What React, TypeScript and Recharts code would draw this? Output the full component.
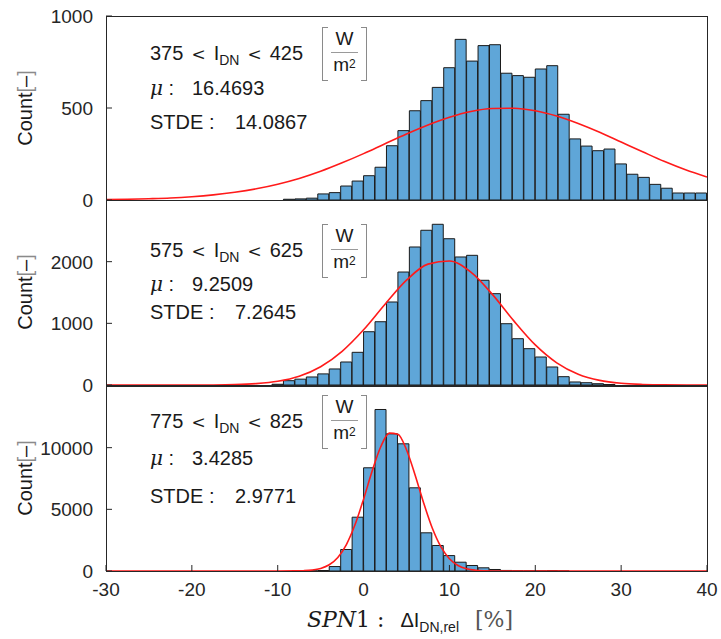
/**
 * SPN1 relative DNI deviation: three stacked histograms (per irradiance band)
 * with the fitted normal curve drawn on top.
 */

import { ComposedChart, Bar, Line, XAxis, YAxis } from 'recharts'

const BIN_WIDTH = 4 / 3
const X_DOMAIN: [number, number] = [-30, 40]
const X_TICKS = [-30, -20, -10, 0, 10, 20, 30, 40]

// band labels, fit parameters as printed
const bandLow = [375, 575, 775]
const bandHigh = [425, 625, 825]
const means = ['16.4693', '9.2509', '3.4285']
const stdes = ['14.0867', '7.2645', '2.9771']

// panel 1 (375-425 W/m2): first bin index (left edge = index * BIN_WIDTH)
const firstBin1 = -7
const counts1 = [
    4, 6, 10, 33, 40, 76, 103, 132, 178, 295, 377, 485, 540, 612, 719, 873, 755, 839, 844,
    689, 676, 667, 712, 730, 466, 332, 293, 268, 277, 196, 140, 123, 85, 64, 38, 38, 38,
]
const fitX1 = [-30, -27.5, -25, -22.5, -20, -17.5, -15, -12.5, -10, -7.5, -5, -2.5, 0, 2.5, 5, 7.5, 10, 12.5, 15, 17.5, 20, 22.5, 25, 27.5, 30, 32.5, 35, 37.5, 40]
const fitY1 = [2, 4, 7, 11, 18, 28, 42, 61, 86, 117, 156, 202, 252, 306, 359, 408, 450, 481, 497, 499, 485, 456, 416, 368, 315, 262, 210, 164, 125]
const yTicks1 = [0, 500, 1000]

// panel 2 (575-625 W/m2)
const firstBin2 = -8
const counts2 = [
    12, 70, 95, 130, 180, 260, 373, 530, 864, 1026, 1346, 1832, 2238, 2509, 2606, 2372, 2076,
    2103, 1698, 1481, 994, 751, 589, 454, 292, 135, 49, 37, 21, 8,
]
const fitX2 = [-30, -20, -17.5, -15, -12.5, -10, -7.5, -5, -2.5, 0, 2.5, 5, 7.5, 10, 12.5, 15, 17.5, 20, 22.5, 25, 27.5, 30, 32.5, 35, 40]
const fitY2 = [0, 0, 1, 6, 22, 60, 142, 296, 546, 895, 1310, 1700, 1960, 2010, 1830, 1470, 1040, 650, 360, 175, 75, 28, 9, 2, 0]
const yTicks2 = [0, 1000, 2000]

// panel 3 (775-825 W/m2)
const firstBin3 = -5
const counts3 = [
    15, 40, 360, 1743, 4362, 8368, 13095, 11124, 10313, 6746, 3097, 2068, 1250, 714, 446, 259,
    122, 45, 20, 10, 5, 30, 5,
]
const fitX3 = [-30, -10, -8, -7, -6, -5, -4, -3, -2, -1, 0, 1, 2, 3, 4, 5, 6, 7, 8, 9, 10, 11, 12, 13, 14, 16, 20, 40]
const fitY3 = [0, 0, 7, 25, 76, 207, 505, 1102, 2148, 3743, 5826, 8104, 10071, 11183, 11095, 9836, 7791, 5513, 3486, 1970, 994, 448, 181, 65, 21, 0, 0, 0]
const yTicks3 = [0, 5000, 10000]

const SANS = '"Liberation Sans", Arial, Helvetica, sans-serif'
const SERIF = '"DejaVu Serif", "Liberation Serif", serif'
const AXIS = '#262626'
const BAR_FILL = '#5fa6d8'
const TICK_LEN = 6

const toBins = (first: number, counts: number[]) =>
    counts.map((c, i) => ({ x: (first + i + 0.5) * BIN_WIDTH, count: c }))
const toFit = (xs: number[], ys: number[]) => xs.map((x, i) => ({ x, fit: ys[i] }))

type Side = 'bottom' | 'top' | 'left' | 'right'

// inward tick mark (MATLAB style) plus optional label, drawn as a path
const makeTick = (side: Side, withLabel: boolean) => (props: any) => {
    const { x, y, payload } = props
    let d = ''
    if (side === 'bottom') d = `M${x},${y}V${y - TICK_LEN}`
    if (side === 'top') d = `M${x},${y}V${y + TICK_LEN}`
    if (side === 'left') d = `M${x},${y}H${x + TICK_LEN}`
    if (side === 'right') d = `M${x},${y}H${x - TICK_LEN}`
    return (
        <g>
            <path d={d} stroke={AXIS} strokeWidth={1} fill="none" />
            {withLabel && side === 'bottom' && (
                <text x={x} y={y + 25} textAnchor="middle" fill={AXIS} fontSize={19} fontFamily={SANS}>
                    {payload.value}
                </text>
            )}
            {withLabel && side === 'left' && (
                <text x={x - 13} y={y + 7} textAnchor="end" fill={AXIS} fontSize={19} fontFamily={SANS}>
                    {payload.value}
                </text>
            )}
        </g>
    )
}

interface PanelProps {
    bins: { x: number; count: number }[]
    fit: { x: number; fit: number }[]
    yMax: number
    yTicks: number[]
    height: number
    top: number
    bottom: number
    xAxisHeight: number
    showXLabels: boolean
}

function Panel({ bins, fit, yMax, yTicks, height, top, bottom, xAxisHeight, showXLabels }: PanelProps) {
    const common = { tickSize: 0, tickMargin: 0, axisLine: false, tickLine: false, interval: 0 as const, allowDataOverflow: true }
    return (
        <ComposedChart
            width={721}
            height={height}
            data={bins}
            margin={{ top, right: 14, bottom, left: 0 }}
            barCategoryGap={0}
            barGap={0}
        >
            <Bar
                xAxisId="b"
                yAxisId="l"
                dataKey="count"
                fill={BAR_FILL}
                stroke="#1a1a1a"
                strokeWidth={1}
                isAnimationActive={false}
            />
            <Line
                xAxisId="t"
                yAxisId="r"
                data={fit}
                dataKey="fit"
                type="monotone"
                stroke="#ff1a1a"
                strokeWidth={1.6}
                dot={false}
                activeDot={false}
                isAnimationActive={false}
            />
            <XAxis {...common} xAxisId="b" dataKey="x" type="number" domain={X_DOMAIN} ticks={X_TICKS}
                height={xAxisHeight} tick={makeTick('bottom', showXLabels)} />
            <XAxis {...common} xAxisId="t" orientation="top" dataKey="x" type="number" domain={X_DOMAIN} ticks={X_TICKS}
                height={0} tick={makeTick('top', false)} />
            <YAxis {...common} yAxisId="l" type="number" domain={[0, yMax]} ticks={yTicks}
                width={106} tick={makeTick('left', true)} />
            <YAxis {...common} yAxisId="r" orientation="right" type="number" domain={[0, yMax]} ticks={yTicks}
                width={0} tick={makeTick('right', false)} />
        </ComposedChart>
    )
}

// plot box around a panel
function Frame({ top, height }: { top: number; height: number }) {
    return (
        <div style={{ position: 'absolute', left: 106, top, width: 602, height: height + 1, boxSizing: 'border-box', border: `1px solid ${AXIS}`, pointerEvents: 'none' }} />
    )
}

function Unit({ left, centerY }: { left: number; centerY: number }) {
    const bracket = { position: 'absolute' as const, top: 0, width: 5, height: 52, borderTop: '1.5px solid #8a8a8a', borderBottom: '1.5px solid #8a8a8a' }
    return (
        <div style={{ position: 'absolute', left, top: centerY - 26, width: 45, height: 52 }}>
            <div style={{ ...bracket, left: 0, borderLeft: '1.5px solid #8a8a8a' }} />
            <div style={{ ...bracket, right: 0, borderRight: '1.5px solid #8a8a8a' }} />
            <div style={{ position: 'absolute', left: 0, width: 45, top: 1, textAlign: 'center', fontSize: 19, lineHeight: '22px' }}>W</div>
            <div style={{ position: 'absolute', left: 9, width: 27, top: 25, height: 0, borderTop: '1.5px solid #9a9a9a' }} />
            <div style={{ position: 'absolute', left: 0, width: 45, top: 27, textAlign: 'center', fontSize: 19, lineHeight: '22px' }}>
                m<span style={{ fontSize: 12, verticalAlign: 'top', position: 'relative', top: -1 }}>2</span>
            </div>
        </div>
    )
}

function Note({ i, y1, yMu, yStd }: { i: number; y1: number; yMu: number; yStd: number }) {
    const line = { position: 'absolute' as const, left: 150, fontSize: 20, lineHeight: '24px', whiteSpace: 'nowrap' as const }
    const lt = { margin: '0 8px', fontFamily: SERIF, fontSize: 17 }
    return (
        <>
            <div style={{ ...line, top: y1 - 12 }}>
                {bandLow[i]}
                <span style={lt}>&lt;</span>
                I<span style={{ fontSize: 14, position: 'relative', top: 5 }}>DN</span>
                <span style={lt}>&lt;</span>
                {bandHigh[i]}
            </div>
            <Unit left={322} centerY={y1} />
            <div style={{ ...line, top: yMu - 12 }}>
                <span style={{ fontFamily: SERIF, fontStyle: 'italic' }}>μ</span> :
            </div>
            <div style={{ ...line, left: 192, top: yMu - 12 }}>{means[i]}</div>
            <div style={{ ...line, top: yStd - 12 }}>STDE :</div>
            <div style={{ ...line, left: 235, top: yStd - 12 }}>{stdes[i]}</div>
        </>
    )
}

function CountLabel({ centerY }: { centerY: number }) {
    return (
        <div
            style={{
                position: 'absolute', left: 25, top: centerY, fontSize: 20, whiteSpace: 'nowrap',
                transform: 'translate(-50%, -50%) rotate(-90deg)', lineHeight: '24px',
            }}
        >
            Count<span style={{ color: '#8a8a8a', fontWeight: 300 }}>[</span>–<span style={{ color: '#8a8a8a' }}>]</span>
        </div>
    )
}

export default function App() {
    return (
        <div style={{ position: 'absolute', left: 0, top: 0, width: 721, height: 639, background: '#fff', fontFamily: SANS, color: '#1a1a1a' }}>
            <style>{'.recharts-wrapper, .recharts-surface { overflow: visible !important; }'}</style>
            <div style={{ position: 'absolute', left: 0, top: 0 }}>
                <Panel bins={toBins(firstBin1, counts1)} fit={toFit(fitX1, fitY1)} yMax={1000} yTicks={yTicks1}
                    height={202} top={16} bottom={2} xAxisHeight={0} showXLabels={false} />
            </div>
            <div style={{ position: 'absolute', left: 0, top: 198 }}>
                <Panel bins={toBins(firstBin2, counts2)} fit={toFit(fitX2, fitY2)} yMax={3000} yTicks={yTicks2}
                    height={189} top={2} bottom={2} xAxisHeight={0} showXLabels={false} />
            </div>
            <div style={{ position: 'absolute', left: 0, top: 384 }}>
                <Panel bins={toBins(firstBin3, counts3)} fit={toFit(fitX3, fitY3)} yMax={15000} yTicks={yTicks3}
                    height={255} top={2} bottom={0} xAxisHeight={68} showXLabels />
            </div>

            <Frame top={16} height={184} />
            <Frame top={200} height={185} />
            <Frame top={386} height={185} />

            <Note i={0} y1={53} yMu={88} yStd={122} />
            <Note i={1} y1={250} yMu={284} yStd={312} />
            <Note i={2} y1={421} yMu={458} yStd={496} />

            <CountLabel centerY={108} />
            <CountLabel centerY={292} />
            <CountLabel centerY={478} />

            <div style={{ position: 'absolute', left: 410, top: 621, transform: 'translate(-50%, -50%)', whiteSpace: 'nowrap', fontSize: 20, lineHeight: '26px' }}>
                <span style={{ fontFamily: SERIF, fontStyle: 'italic', fontSize: 22 }}>SPN</span>
                <span style={{ fontFamily: SERIF, fontSize: 22 }}>1 :</span>
                <span style={{ marginLeft: 16 }}>ΔI</span>
                <span style={{ fontSize: 14, position: 'relative', top: 5 }}>DN,rel</span>
                <span style={{ fontFamily: SERIF, fontSize: 22, marginLeft: 16, color: '#555' }}>[%]</span>
            </div>
        </div>
    )
}
